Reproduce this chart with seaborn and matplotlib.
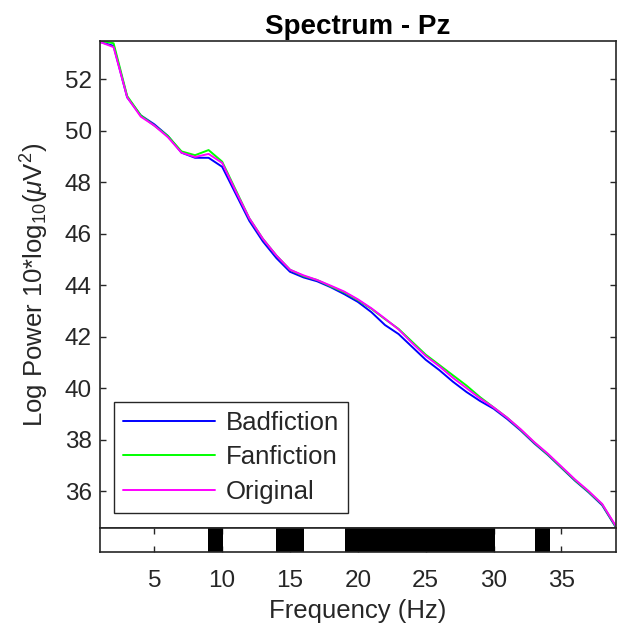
import numpy as np
import pandas as pd
import seaborn as sns
import matplotlib
matplotlib.use("Agg")
import matplotlib.pyplot as plt

# frequencies (Hz) and log power for each condition
freqs = list(range(1, 40))
badfiction = [53.45, 53.3, 51.3, 50.6, 50.25, 49.8, 49.15, 48.95, 48.95, 48.6, 47.55,
              46.5, 45.7, 45.05, 44.52, 44.3, 44.15, 43.92, 43.65, 43.35, 42.95, 42.45,
              42.1, 41.6, 41.1, 40.7, 40.25, 39.85, 39.5, 39.2, 38.8, 38.35, 37.85, 37.4,
              36.9, 36.4, 35.95, 35.45, 34.6]
fanfiction = [53.5, 53.4, 51.35, 50.6, 50.2, 49.8, 49.2, 49.05, 49.25, 48.8, 47.7,
              46.6, 45.8, 45.15, 44.6, 44.35, 44.2, 43.95, 43.72, 43.42, 43.08, 42.68,
              42.3, 41.8, 41.3, 40.9, 40.5, 40.1, 39.65, 39.25, 38.85, 38.38, 37.88, 37.42,
              36.92, 36.42, 35.97, 35.48, 34.62]
original = [53.45, 53.25, 51.3, 50.55, 50.2, 49.75, 49.15, 48.98, 49.1, 48.75, 47.65,
            46.6, 45.8, 45.15, 44.6, 44.38, 44.2, 43.98, 43.75, 43.45, 43.1, 42.7,
            42.28, 41.75, 41.25, 40.85, 40.4, 40.0, 39.6, 39.25, 38.85, 38.4, 37.9, 37.45,
            36.95, 36.45, 36.0, 35.5, 34.65]
conditions = ["Badfiction", "Fanfiction", "Original"]
colors = ["#0000ff", "#00ff00", "#ff00ff"]

# frequency ranges marked as significant in the strip under the plot
sig_start = [8.95, 13.95, 19.05, 33.05]
sig_end = [10.05, 16.05, 30.1, 34.15]

df = pd.DataFrame({
    "freq": freqs * 3,
    "power": badfiction + fanfiction + original,
    "condition": [c for c in conditions for _ in freqs],
})

sns.set_style("white")
plt.rcParams["font.family"] = ["Liberation Sans", "DejaVu Sans"]
plt.rcParams["mathtext.fontset"] = "custom"
plt.rcParams["mathtext.rm"] = "Liberation Sans"
plt.rcParams["mathtext.it"] = "Liberation Sans:italic"

tick_fs = 17.5
lab_fs = 18.5
txt = "#262626"

fig = plt.figure(figsize=(6.24, 6.36), dpi=100)
ax = fig.add_axes([0.1603, 0.1693, 0.8264, 0.7667])
ax2 = fig.add_axes([0.1603, 0.1316, 0.8264, 0.0377], sharex=ax)

sns.lineplot(data=df, x="freq", y="power", hue="condition", palette=colors,
             linewidth=1.4, ax=ax)

ax.set_xlim(1, 39)
ax.set_ylim(34.55, 53.5)
ax.set_yticks(range(36, 53, 2))
ax.tick_params(axis="y", direction="in", length=4, width=1, labelsize=tick_fs,
               left=True, right=True, colors=txt, pad=6)
ax.tick_params(axis="x", bottom=False, labelbottom=False)
ax.set_xlabel("")
ax.set_ylabel(r"Log Power 10*log$_{10}$($\mu$V$^2$)", fontsize=lab_fs, color=txt,
              labelpad=10)
ax.set_title("Spectrum - Pz", fontsize=20, fontweight="bold", pad=5, color="black")
for s in ax.spines.values():
    s.set_color(txt)
    s.set_linewidth(1.2)

leg = ax.legend(loc="lower left", bbox_to_anchor=(0.027, 0.031), borderaxespad=0,
                fontsize=lab_fs, frameon=True, fancybox=False, framealpha=1,
                edgecolor=txt, handlelength=3.6, handletextpad=0.4,
                labelspacing=0.42, borderpad=0.35)
leg.get_frame().set_linewidth(1.0)
for h in leg.get_lines():
    h.set_linewidth(1.4)

for a, b in zip(sig_start, sig_end):
    ax2.axvspan(a, b, color="black", lw=0)
ax2.set_ylim(0, 1)
ax2.set_yticks([])
ax2.set_xticks(range(5, 40, 5))
ax2.tick_params(axis="x", direction="in", length=4, width=1, labelsize=tick_fs,
                top=True, bottom=True, colors=txt, pad=13)
ax2.set_xlabel("Frequency (Hz)", fontsize=lab_fs, color=txt, labelpad=5)
for s in ax2.spines.values():
    s.set_color(txt)
    s.set_linewidth(1.2)

fig.savefig("out.png", dpi=100)
